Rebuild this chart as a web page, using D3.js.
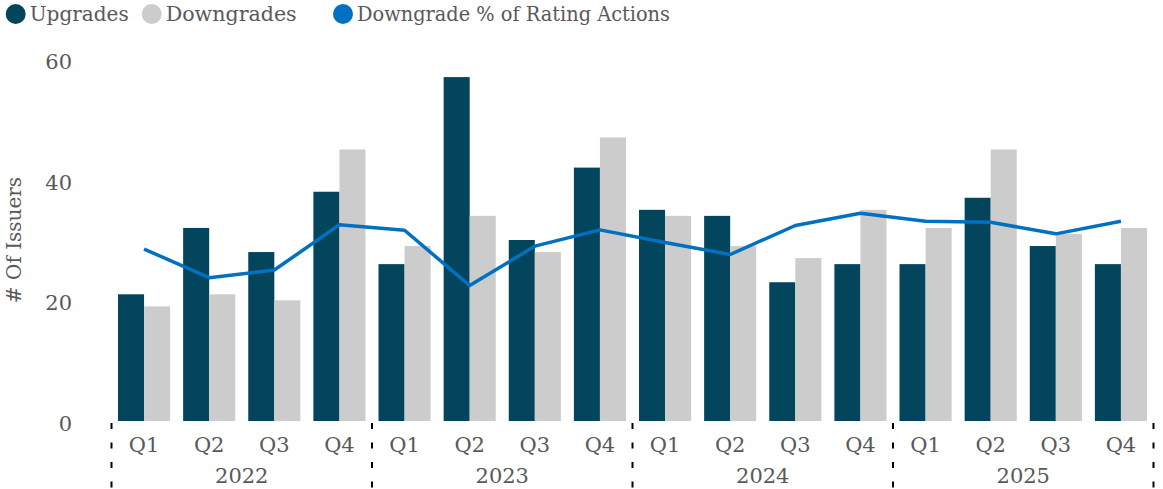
<!DOCTYPE html>
<html>
<head>
<meta charset="utf-8">
<script src="https://cdn.jsdelivr.net/npm/d3@7"></script>
<style>
  html, body { margin: 0; padding: 0; background: #fff; }
  svg text { font-family: "DejaVu Serif", "Liberation Serif", serif; fill: #595959; }
</style>
</head>
<body>
<svg id="chart" width="1163" height="489"></svg>
<script>
// Quarterly rating actions, 2022–2025
const years = ["2022", "2023", "2024", "2025"];
const quarters = ["Q1", "Q2", "Q3", "Q4"];
const upgrades   = [21, 32, 28, 38,  26, 57, 30, 42,  35, 34, 23, 26,  26, 37, 29, 26];
const downgrades = [19, 21, 20, 45,  29, 34, 28, 47,  34, 29, 27, 35,  32, 45, 31, 32];
// Downgrades as a share of all rating actions (%)
const downgradePct = [47.5, 39.6, 41.7, 54.2,  52.7, 37.4, 48.3, 52.8,  49.3, 46.0, 54.0, 57.4,  55.2, 54.9, 51.7, 55.2];
const yTicks = [0, 20, 40, 60];

const colors = { up: "#03455C", down: "#CCCCCC", pct: "#0070C0" };

const periods = [];
years.forEach(y => quarters.forEach(q => periods.push(y + " " + q)));

const svg = d3.select("#chart");

const x = d3.scaleBand().domain(periods).range([111.5, 1153.5]).paddingInner(0.2).paddingOuter(0.1);
const xs = d3.scaleBand().domain(["up", "down"]).range([0, x.bandwidth()]);
const y = d3.scaleLinear().domain([0, 60]).range([421, 59]);
const y2 = d3.scaleLinear().domain([0, 100]).range([421, 59]);

// Bars
const groups = svg.append("g").selectAll("g").data(periods).join("g")
  .attr("transform", d => `translate(${x(d)},0)`);
groups.append("rect")
  .attr("x", xs("up")).attr("width", xs.bandwidth())
  .attr("y", (d, i) => y(upgrades[i])).attr("height", (d, i) => y(0) - y(upgrades[i]))
  .attr("fill", colors.up);
groups.append("rect")
  .attr("x", xs("down")).attr("width", xs.bandwidth())
  .attr("y", (d, i) => y(downgrades[i])).attr("height", (d, i) => y(0) - y(downgrades[i]))
  .attr("fill", colors.down);

// Downgrade share line
const line = d3.line()
  .x((d, i) => x(periods[i]) + x.bandwidth() / 2)
  .y(d => y2(d));
svg.append("path").datum(downgradePct)
  .attr("d", line)
  .attr("fill", "none")
  .attr("stroke", colors.pct)
  .attr("stroke-width", 3.5)
  .attr("stroke-linejoin", "round");

// Left axis (labels only)
const yAxis = svg.append("g").attr("transform", "translate(72,0)")
  .call(d3.axisLeft(y).tickValues(yTicks).tickSize(0).tickPadding(0));
yAxis.select(".domain").remove();
yAxis.selectAll("text").attr("font-size", 21).attr("fill", "#595959").attr("dy", "0.45em")
  .style("font-family", "DejaVu Serif");

svg.append("text")
  .attr("transform", "translate(21,240) rotate(-90)")
  .attr("text-anchor", "middle")
  .attr("font-size", 20)
  .text("# Of Issuers");

// Quarter labels
const xAxis = svg.append("g").attr("transform", "translate(0,445)")
  .call(d3.axisBottom(x).tickSize(0).tickPadding(0).tickFormat(d => d.split(" ")[1]));
xAxis.select(".domain").remove();
xAxis.selectAll("text").attr("font-size", 21).attr("fill", "#595959").attr("dy", "0.35em")
  .style("font-family", "DejaVu Serif");

// Year labels and dashed separators
const yearStep = x.step() * 4;
const xStart = x.range()[0];
svg.append("g").selectAll("text").data(years).join("text")
  .attr("x", (d, i) => xStart + yearStep * (i + 0.5))
  .attr("y", 476)
  .attr("dy", "0.35em")
  .attr("text-anchor", "middle")
  .attr("font-size", 21)
  .text(d => d);

const seps = d3.range(years.length + 1).map(i => xStart + yearStep * i);
svg.append("g").selectAll("line").data(seps).join("line")
  .attr("x1", d => d).attr("x2", d => d)
  .attr("y1", 423).attr("y2", 489)
  .attr("stroke", "#000")
  .attr("stroke-width", 2)
  .attr("stroke-dasharray", "6,13.5");

// Legend
const legendItems = [
  { label: "Upgrades", color: colors.up, cx: 15.7, w: 99 },
  { label: "Downgrades", color: colors.down, cx: 151.7, w: 131 },
  { label: "Downgrade % of Rating Actions", color: colors.pct, cx: 343, w: 313 }
];
const legend = svg.append("g").selectAll("g").data(legendItems).join("g");
legend.append("circle").attr("cx", d => d.cx).attr("cy", 14).attr("r", 10).attr("fill", d => d.color);
legend.append("text").attr("x", d => d.cx + 14).attr("y", 14).attr("dy", "0.35em")
  .attr("font-size", 21)
  .attr("textLength", d => d.w).attr("lengthAdjust", "spacingAndGlyphs")
  .text(d => d.label);
</script>
</body>
</html>
